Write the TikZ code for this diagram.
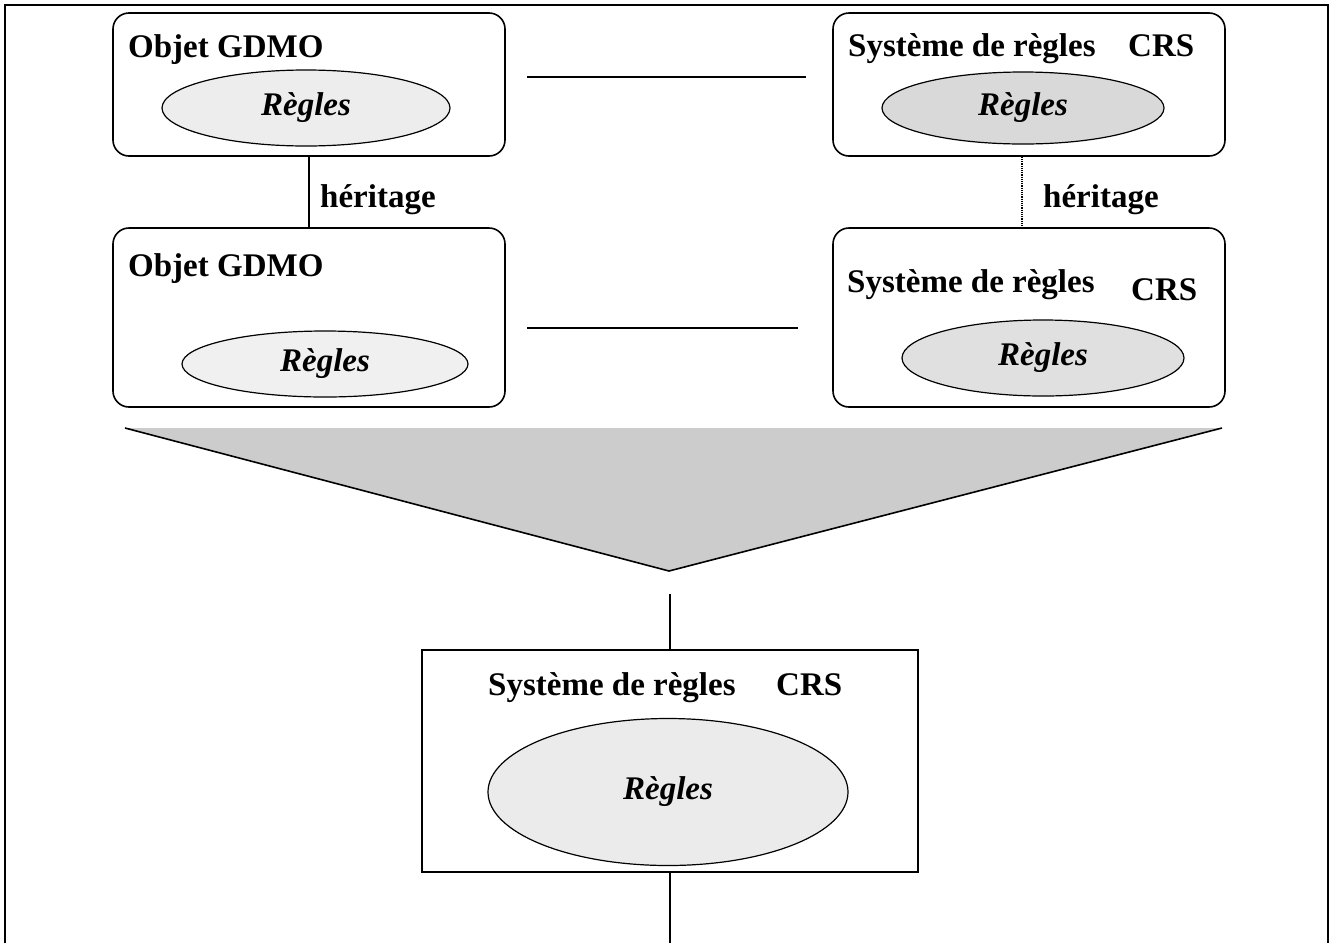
\documentclass[tikz,border=0pt]{standalone}
\usepackage{fontspec}
\setmainfont{Liberation Serif}
\usetikzlibrary{shapes.geometric}
\begin{document}
\begin{tikzpicture}[x=1pt,y=-1pt,
  every node/.style={font=\fontsize{33}{40}\selectfont\bfseries},
  rbox/.style={draw, line width=1.6pt, rounded corners=16pt, minimum width=392pt, inner sep=0pt},
  sbox/.style={draw, line width=1.4pt, inner sep=0pt},
  regle/.style={ellipse, draw, line width=1.2pt, inner sep=0pt, font=\fontsize{33}{40}\selectfont\bfseries\itshape},
  lbl/.style={anchor=base west, inner sep=0pt},
  conn/.style={line width=1.2pt}
]
\useasboundingbox (0,0) rectangle (1335,943);
% outer frame (open at the bottom)
\draw[line width=1.6pt] (5,943) -- (5,5) -- (1328,5) -- (1328,943);

% boxes
\node[rbox, minimum height=143pt] (b1) at (309,84.5) {};
\node[rbox, minimum height=179pt] (b2) at (309,317.5) {};
\node[rbox, minimum height=143pt] (b3) at (1029,84.5) {};
\node[rbox, minimum height=179pt] (b4) at (1029,317.5) {};
\node[sbox, minimum width=496pt, minimum height=222pt] (b5) at (670,761) {};

% titles
\node[lbl] (t1) at (128,57) {Objet GDMO};
\node[lbl] (t2) at (128,276) {Objet GDMO};
\node[lbl] (t3) at (848,56) {Système de règles};
\node[lbl] (t3c) at (1128,56) {CRS};
\node[lbl] (t4) at (847,292) {Système de règles};
\node[lbl] (t4c) at (1131,300) {CRS};
\node[lbl] (t5) at (488,695) {Système de règles};
\node[lbl] (t5c) at (776,695) {CRS};

% rule ellipses
\node[regle, fill=black!7, minimum width=288pt, minimum height=76pt] (e1) at (306,108) {Règles};
\node[regle, fill=black!6, minimum width=286pt, minimum height=66pt] (e2) at (325,364) {Règles};
\node[regle, fill=black!15, minimum width=282pt, minimum height=72pt] (e3) at (1023,108) {Règles};
\node[regle, fill=black!12, minimum width=282pt, minimum height=76pt] (e4) at (1043,358) {Règles};
\node[regle, fill=black!8, minimum width=360pt, minimum height=147pt] (e5) at (668,792) {Règles};

% inheritance links
\draw[conn] (b1.south) -- (b2.north);
\node[lbl] (h1) at (320,207) {héritage};
\draw[conn, densely dotted] ([xshift=-7pt]b3.south) -- ([xshift=-7pt]b4.north);
\node[lbl] (h2) at (1043,207) {héritage};

% horizontal links
\coordinate (a1) at (527,77);
\coordinate (a2) at (806,77);
\coordinate (c1) at (527,328);
\coordinate (c2) at (798,328);
\draw[conn] (a1) -- (a2);
\draw[conn] (c1) -- (c2);

% merging triangle
\coordinate (tl) at (125,428);
\coordinate (tr) at (1222,428);
\coordinate (tv) at (669,571);
\fill[black!20] (tl) -- (tr) -- (tv) -- cycle;
\draw[line width=1.6pt] (tl) -- (tv) -- (tr);

% vertical links to / from the bottom box
\coordinate (v1) at (670,594);
\coordinate (v2) at (670,943);
\draw[conn] (v1) -- (b5.north);
\draw[conn] (b5.south) -- (v2);
\end{tikzpicture}
\end{document}
